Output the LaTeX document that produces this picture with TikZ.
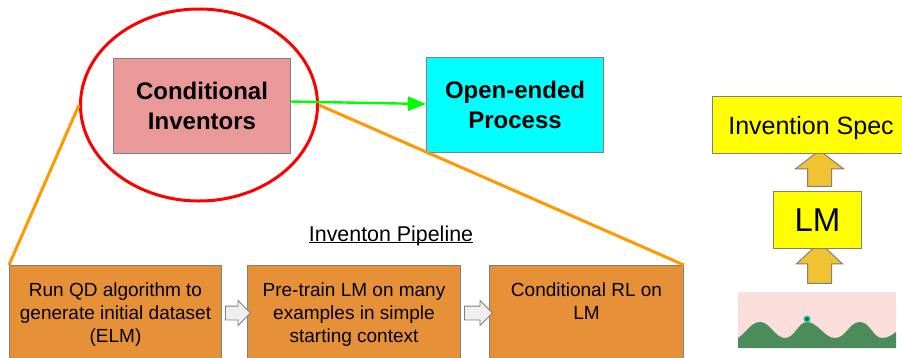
\documentclass[tikz,border=0pt]{standalone}
\usepackage{fontspec}
\setmainfont{Liberation Sans}
\usetikzlibrary{shapes.arrows,shapes.geometric,arrows.meta}
\definecolor{boxline}{HTML}{808080}
\definecolor{orangefill}{HTML}{E69138}
\definecolor{pinkfill}{HTML}{EA9999}
\definecolor{linkorange}{HTML}{FF9900}
\definecolor{blockorange}{HTML}{F1C232}
\definecolor{skypink}{HTML}{F9DEDC}
\definecolor{hillgreen}{HTML}{4C8C5A}
\definecolor{blockgray}{HTML}{EFEFEF}
\definecolor{purecyan}{HTML}{00FFFF}
\definecolor{puregreen}{HTML}{00FF00}
\definecolor{purered}{HTML}{FF0000}
\definecolor{pureyellow}{HTML}{FFFF00}
\tikzset{
  flatbox/.style={draw=boxline,line width=1pt,inner sep=0pt,align=center,anchor=north west},
  stepbox/.style={flatbox,fill=orangefill},
  steptext/.style={font=\fontsize{19}{23}\selectfont,align=center,anchor=north,yshift=-14.5pt},
  headbox/.style={flatbox,font=\bfseries\fontsize{24}{30.5}\selectfont},
  specbox/.style={flatbox,fill=pureyellow},
  uparrow/.style={draw=boxline,line width=1pt,fill=blockorange,single arrow,inner ysep=0pt,inner xsep=11.5pt,shape border rotate=90,single arrow head indent=0pt},
  sidearrow/.style={draw=boxline,line width=.8pt,fill=blockgray,single arrow,inner xsep=0pt,inner ysep=6.5pt,single arrow head indent=0pt,single arrow tip angle=90,single arrow head extend=5.5pt},
  link/.style={draw=linkorange,line width=3pt},
}
\begin{document}
\begin{tikzpicture}[x=1pt,y=-1pt]
\useasboundingbox (0,0) rectangle (902,357);
% Block arrows behind the boxes
\node[uparrow,minimum height=36pt,single arrow head extend=12pt,single arrow tip angle=105] (upper) at (819.5,173) {};
\node[uparrow,minimum height=41pt,single arrow head extend=11pt,single arrow tip angle=94] (lower) at (819.5,268.5) {};
% Top boxes
\node[headbox,fill=pinkfill,minimum width=177pt,minimum height=95pt] (cond) at (113,58) {Conditional\\Inventors};
\node[headbox,fill=purecyan,minimum width=177pt,minimum height=95pt] (open) at (426,57) {Open-ended\\Process};
\node[draw=purered,line width=3pt,ellipse,minimum width=237pt,minimum height=192pt,inner sep=0pt] (focus) at (199,105) {};
% Pipeline
\node[font=\fontsize{21.4}{24}\selectfont,anchor=base] (title) at (391,241) {\vtop{\hbox{Inventon Pipeline}\kern-3.5pt\hrule height 1pt}};
\node[stepbox,minimum width=212pt,minimum height=100pt] (s1) at (9,265) {};
\node[stepbox,minimum width=213pt,minimum height=100pt] (s2) at (247,265) {};
\node[stepbox,minimum width=194pt,minimum height=100pt] (s3) at (489,265) {};
\node[steptext] (t1) at (s1.north) {Run QD algorithm to\\generate initial dataset\\(ELM)};
\node[steptext] (t2) at (s2.north) {Pre-train LM on many\\examples in simple\\starting context};
\node[steptext] (t3) at (s3.north) {Conditional RL on\\LM};
\node[sidearrow,minimum height=25pt] (a12) at (234.5,313) {};
\node[sidearrow,minimum height=28pt] (a23) at (475,313) {};
% Links
\coordinate (fl) at (focus.west);
\coordinate (fr) at (focus.east);
\draw[link] (fl) -- (s1.north west);
\draw[link] (fr) -- (s3.north east);
\draw[draw=puregreen,line width=2.4pt,-{Triangle[length=18pt,width=14pt]}] (cond.east |- 0,101.5) -- (open.west |- 0,104);
% Right column
\node[specbox,minimum width=195pt,minimum height=57pt] (spec) at (712,96) {};
\node[font=\fontsize{25}{28}\selectfont,anchor=center] (spectext) at (811,128) {Invention Spec};
\node[specbox,minimum width=88pt,minimum height=57pt,font=\fontsize{33}{38}\selectfont] (lm) at (773,191) {LM};
% Landscape
\fill[skypink] (738,292) rectangle (896,348);
\fill[hillgreen] (738,338)
  .. controls (746,333) and (751,322) .. (760,322)
  .. controls (770,322) and (775,338) .. (785,338)
  .. controls (795,338) and (798,322) .. (807,322)
  .. controls (818,322) and (824,338) .. (835,338)
  .. controls (846,338) and (849,322) .. (860,322)
  .. controls (870,322) and (873,338) .. (882,338)
  .. controls (888,338) and (892,335) .. (896,332)
  -- (896,348) -- (738,348) -- cycle;
\draw[white!85!black,line width=.6pt] (807,319) -- (817,326);
\fill[purecyan!60!hillgreen] (807,319) circle (3.6);
\fill[hillgreen!70!black] (807,319) circle (2);
\end{tikzpicture}
\end{document}
